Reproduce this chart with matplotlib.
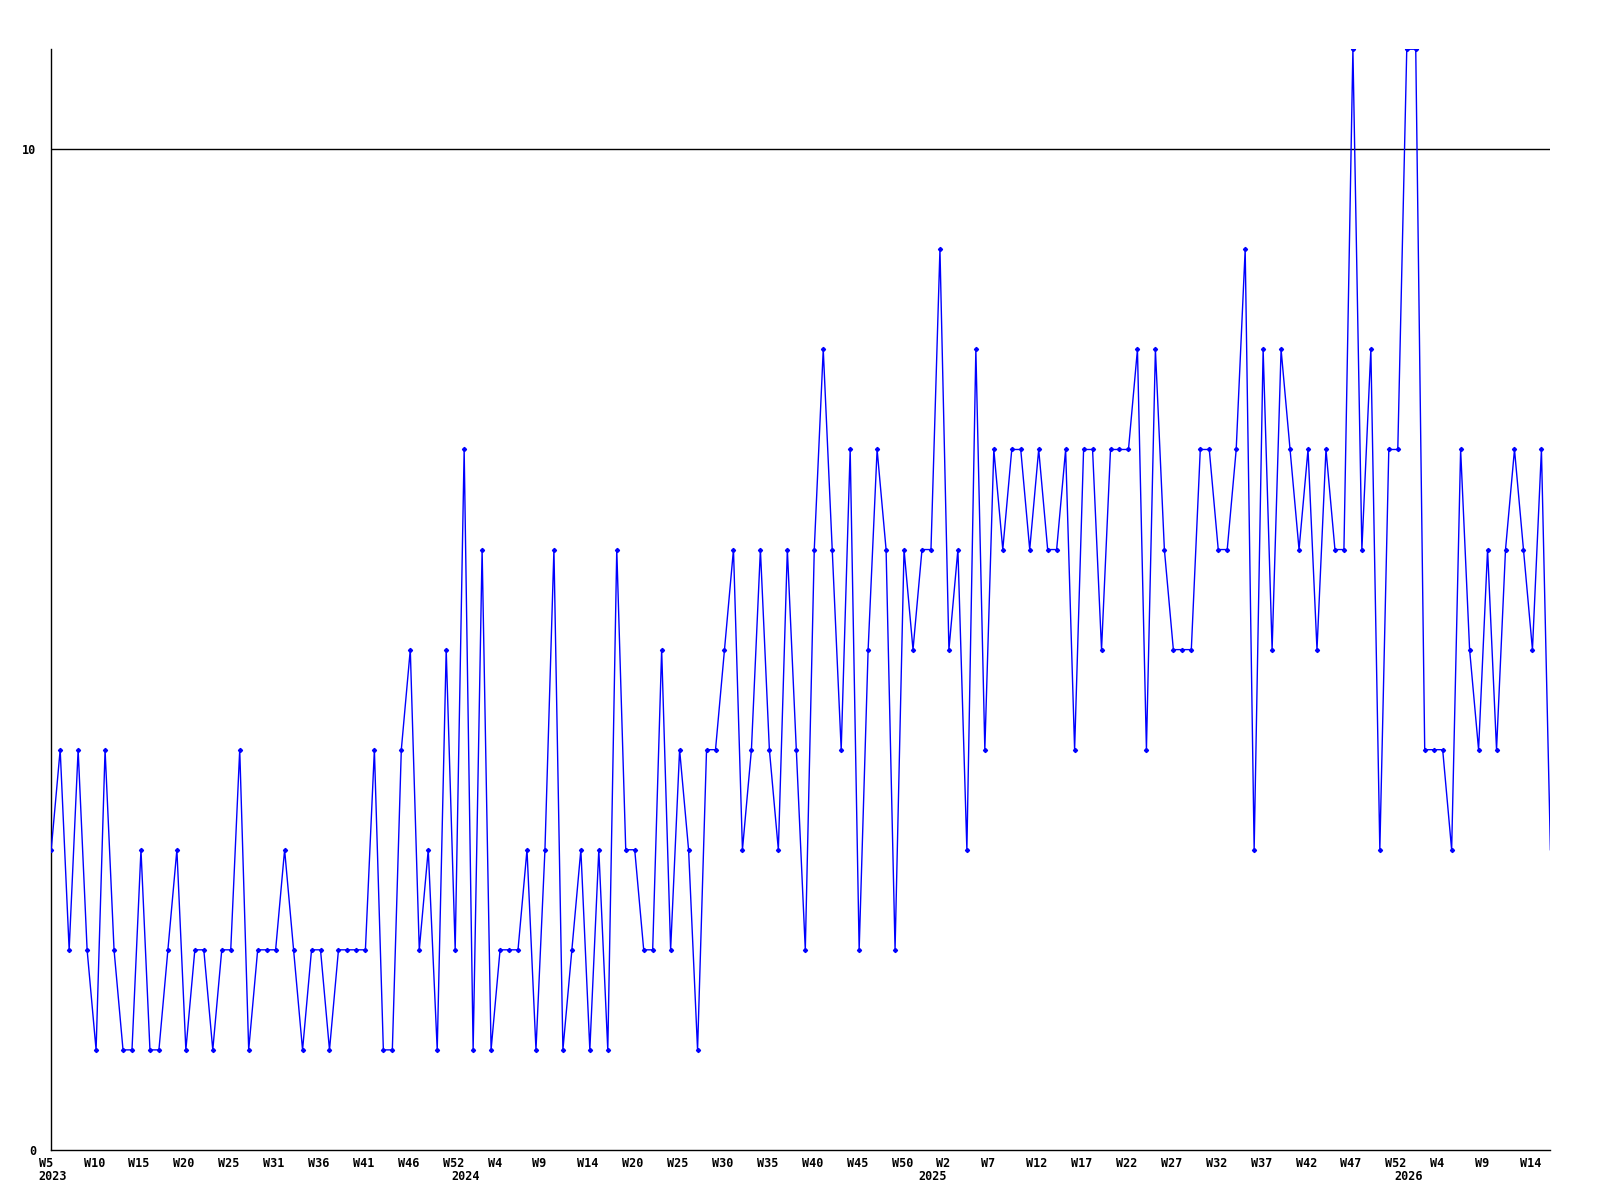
import matplotlib
matplotlib.use("Agg")
import matplotlib.pyplot as plt
import matplotlib.transforms as mtransforms

# Weekly values, 2023 W5 onwards
values = [
    3, 4, 2, 4, 2, 1, 4, 2, 1, 1, 3, 1, 1, 2, 3, 1, 2, 2, 1, 2, 2, 4,
    1, 2, 2, 2, 3, 2, 1, 2, 2, 1, 2, 2, 2, 2, 4, 1, 1, 4, 5, 2, 3,
    1, 5, 2, 7, 1, 6, 1, 2, 2, 2, 3, 1, 3, 6, 1, 2, 3, 1, 3, 1, 6,
    3, 3, 2, 2, 5, 2, 4, 3, 1, 4, 4, 5, 6, 3, 4, 6, 4, 3, 6, 4, 2,
    6, 8, 6, 4, 7, 2, 5, 7, 6, 2, 6, 5, 6, 6, 9, 5, 6, 3, 8, 4, 7,
    6, 7, 7, 6, 7, 6, 6, 7, 4, 7, 7, 5, 7, 7, 7, 8, 4, 8, 6, 5, 5, 5,
    7, 7, 6, 6, 7, 9, 3, 8, 5, 8, 7, 6, 7, 5, 7, 6, 6, 11, 6, 8, 3,
    7, 7, 11, 11, 4, 4, 4, 3, 7, 5, 4, 6, 4, 6, 7, 6, 5, 7, 3,
]

week_labels = ["W5", "W10", "W15", "W20", "W25", "W31", "W36", "W41", "W46", "W52",
               "W4", "W9", "W14", "W20", "W25", "W30", "W35", "W40", "W45", "W50",
               "W2", "W7", "W12", "W17", "W22", "W27", "W32", "W37", "W42", "W47", "W52",
               "W4", "W9", "W14"]
week_label_step = 5

year_labels = ["2023", "2024", "2025", "2026"]
year_positions = [0, 46, 98, 151]

y_ticks = [0, 10]

font = {"family": "DejaVu Sans Mono", "weight": "bold", "size": 8.5}

fig = plt.figure(figsize=(16, 12), dpi=100)
ax = fig.add_axes([0.032, 0.0417, 0.937, 0.9173])

x = list(range(len(values)))
ax.plot(x, values, color="#0000ff", lw=1.0, marker="D", ms=2.1,
        markevery=list(range(len(values) - 1)), zorder=3)

ax.axhline(10, color="black", lw=1.0, zorder=2)

ax.set_xlim(0, len(values) - 1)
ax.set_ylim(0, 11)

for s in ["top", "right"]:
    ax.spines[s].set_visible(False)
ax.spines["left"].set_linewidth(1.0)
ax.spines["bottom"].set_linewidth(1.0)

ax.set_yticks(y_ticks)
ax.set_yticklabels([str(t) for t in y_ticks], fontdict=font)
ax.tick_params(axis="y", length=0, pad=11)

xt = [i * week_label_step for i in range(len(week_labels))]
ax.set_xticks(xt)
ax.set_xticklabels(week_labels, fontdict=font, ha="left")
ax.tick_params(axis="x", length=0, pad=5)
offset = mtransforms.ScaledTranslation(-12.5 / 100, 0, fig.dpi_scale_trans)
for lab in ax.get_xticklabels():
    lab.set_transform(lab.get_transform() + offset)

trans = mtransforms.blended_transform_factory(ax.transData, ax.transAxes)
for lbl, pos in zip(year_labels, year_positions):
    t = ax.text(pos, -0.018, lbl, transform=trans, ha="left", va="top", **font)
    t.set_transform(t.get_transform() + offset)

fig.savefig("out.png", dpi=100)
